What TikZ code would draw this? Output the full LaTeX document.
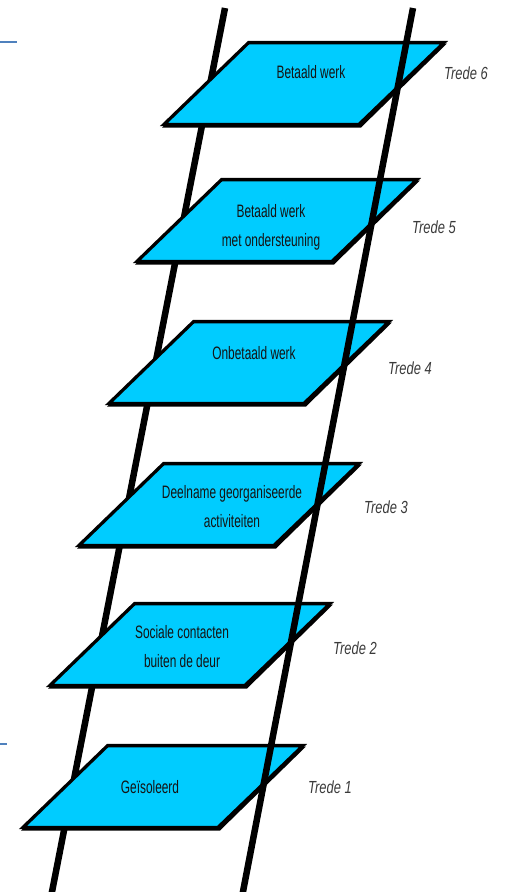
\documentclass[tikz,border=0pt]{standalone}
\usepackage{fontspec}
\setmainfont{Liberation Sans}
\newfontfamily\stepfont[FakeStretch=0.66]{Liberation Sans}
\newfontfamily\tredefont[FakeStretch=0.74]{Liberation Sans}
\definecolor{platcyan}{HTML}{00CCFF}
\definecolor{markblue}{HTML}{4F81BD}
\definecolor{tredegray}{HTML}{3A3A3A}
\begin{document}
\begin{tikzpicture}[x=1pt,y=-1pt,
  platform/.style={fill=platcyan,draw=black,line width=3.3pt,line join=miter},
  platshadow/.style={fill=black},
  rail/.style={line width=6.5pt,draw=black},
  sidemark/.style={draw=markblue,line width=2pt},
  steplabel/.style={font=\stepfont\fontsize{18}{29}\selectfont,align=center,text=black!92,inner sep=0pt},
  tredelabel/.style={font=\tredefont\itshape\fontsize{17.5}{20}\selectfont,text=tredegray,inner sep=0pt}]
\useasboundingbox (0,0) rectangle (505,892);
\begin{scope}
  \clip (0,0) rectangle (505,892);
  % left rail (behind the steps)
  \coordinate (lrtop) at (225,8);
  \coordinate (lrbot) at (50,902);
  \draw[rail] (lrtop) -- (lrbot);
  % steps
  \foreach \x/\y in {247/41,220/178,192/320,162/462,133/602,106/744}{
    \fill[platshadow] (\x+1,\y+2.5) -- (\x+200,\y+2.5) -- (\x+114,\y+86.5) -- (\x-85,\y+86.5) -- cycle;
    \draw[platform] (\x+1.6,\y+1.6) -- (\x+197,\y+1.6) -- (\x+112,\y+83.4) -- (\x-83,\y+83.4) -- cycle;
  }
  % right rail (in front of the steps)
  \coordinate (rrtop) at (413,8);
  \coordinate (rrbot) at (241,902);
  \draw[rail] (rrtop) -- (rrbot);
\end{scope}
% side marks
\coordinate (m1a) at (0,42); \coordinate (m1b) at (17,42);
\coordinate (m2a) at (0,744); \coordinate (m2b) at (7,744);
\draw[sidemark] (m1a) -- (m1b);
\draw[sidemark] (m2a) -- (m2b);
% step texts
\node[steplabel] (s6) at (311,72) {Betaald werk};
\node[steplabel] (s5) at (271,227) {Betaald werk\\met ondersteuning};
\node[steplabel] (s4) at (254,353) {Onbetaald werk};
\node[steplabel] (s3) at (232,507) {Deelname georganiseerde\\activiteiten};
\node[steplabel] (s2) at (182,647) {Sociale contacten\\buiten de deur};
\node[steplabel] (s1) at (150,787) {Geïsoleerd};
% trede labels
\node[tredelabel] (t6) at (466,73) {Trede 6};
\node[tredelabel] (t5) at (434,227) {Trede 5};
\node[tredelabel] (t4) at (410,368) {Trede 4};
\node[tredelabel] (t3) at (386,507) {Trede 3};
\node[tredelabel] (t2) at (355,648) {Trede 2};
\node[tredelabel] (t1) at (330,787) {Trede 1};
\end{tikzpicture}
\end{document}
